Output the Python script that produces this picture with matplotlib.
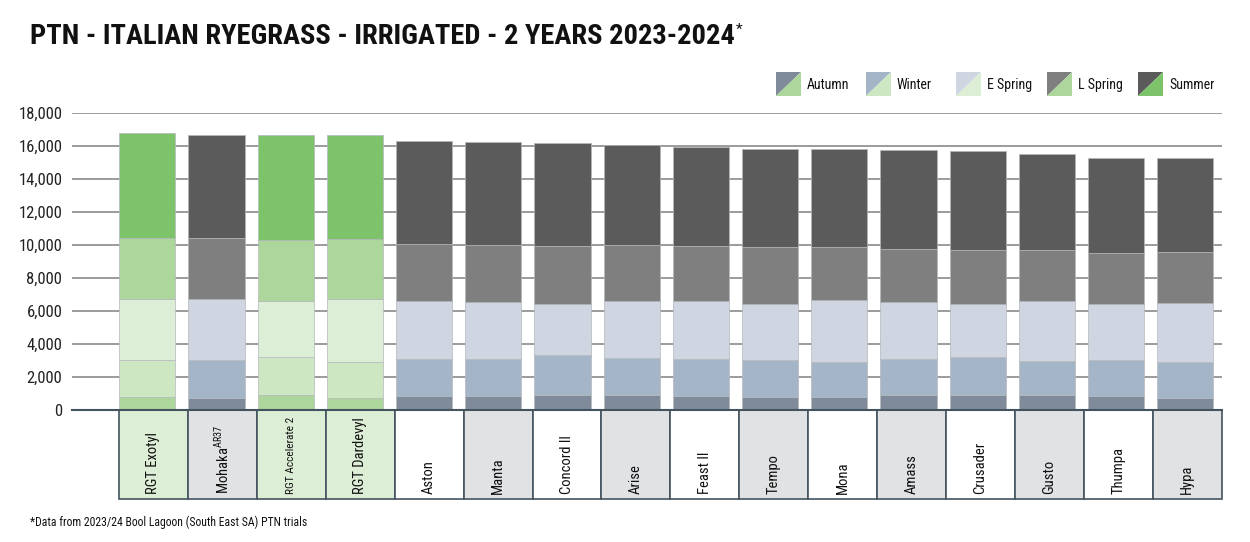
import matplotlib
matplotlib.use("Agg")
import matplotlib.pyplot as plt
from matplotlib.patches import Rectangle, Polygon
from matplotlib import font_manager as fm
import numpy as np

# ---------------- data ----------------
categories = ["RGT Exotyl", "Mohaka$^{\\mathregular{AR37}}$", "RGT Accelerate 2", "RGT Dardevyl",
              "Aston", "Manta", "Concord II", "Arise", "Feast II", "Tempo", "Mona",
              "Amass", "Crusader", "Gusto", "Thumpa", "Hypa"]
is_rgt = [True, False, True, True, False, False, False, False, False, False, False,
          False, False, False, False, False]
seasons = ["Autumn", "Winter", "E Spring", "L Spring", "Summer"]
autumn   = [790, 750, 890, 730, 850, 830, 890, 910, 850, 810, 800, 910, 930, 910, 870, 750]
winter   = [2240, 2280, 2340, 2160, 2240, 2260, 2420, 2240, 2220, 2240, 2110, 2180, 2280, 2060, 2160, 2140]
e_spring = [3700, 3700, 3370, 3840, 3500, 3450, 3090, 3440, 3520, 3390, 3780, 3430, 3230, 3640, 3410, 3600]
l_spring = [3700, 3700, 3700, 3640, 3500, 3480, 3540, 3390, 3350, 3410, 3210, 3250, 3270, 3110, 3090, 3090]
summer   = [6380, 6260, 6390, 6280, 6220, 6240, 6240, 6100, 6020, 5980, 5940, 5980, 6000, 5820, 5740, 5700]
y_ticks = [0, 2000, 4000, 6000, 8000, 10000, 12000, 14000, 16000, 18000]

# ---------------- styles ----------------
grey_cols = ["#7f8a9a", "#a5b5c8", "#cfd6e1", "#7f7f7f", "#5b5b5b"]
green_cols = ["#acd69c", "#cde7c3", "#ddeed6", "#acd69c", "#7cc36a"]

avail = {f.name for f in fm.fontManager.ttflist}
narrow = None
for cand in ["Liberation Sans Narrow", "Roboto Condensed", "Open Sans Condensed", "DejaVu Sans"]:
    if cand in avail:
        narrow = cand
        break
stretch = "condensed" if narrow == "DejaVu Sans" else "normal"
plt.rcParams["font.family"] = [narrow, "DejaVu Sans"]
plt.rcParams["mathtext.fontset"] = "custom"
plt.rcParams["mathtext.rm"] = narrow

W, H = 1250, 542
fig = plt.figure(figsize=(W / 100, H / 100), dpi=100)
ax = fig.add_axes([72 / W, 1 - 410 / H, (1222 - 72) / W, 297 / H])

x = np.arange(len(categories))
series = [autumn, winter, e_spring, l_spring, summer]
bottom = np.zeros(len(categories))
for si, vals in enumerate(series):
    vals = np.array(vals, dtype=float)
    cols = [green_cols[si] if g else grey_cols[si] for g in is_rgt]
    ax.bar(x, vals, bottom=bottom, width=0.81, color=cols,
           edgecolor="#b4b8bc", linewidth=0.5, zorder=3)
    bottom += vals

ax.set_xlim(-1.088, 15.53)
ax.set_ylim(0, 18000)
ax.set_yticks(y_ticks)
ax.set_yticklabels([f"{v:,}" for v in y_ticks], fontsize=12, color="#222222",
                   fontstretch=stretch)
ax.yaxis.grid(True, color="#8a8a8a", linewidth=1.2, zorder=0)
ax.tick_params(axis="y", length=0, pad=7)
ax.tick_params(axis="x", length=0, labelbottom=False)
for s in ["top", "right", "left"]:
    ax.spines[s].set_visible(False)
ax.spines["bottom"].set_color("#44545f")
ax.spines["bottom"].set_linewidth(1.5)
ax.spines["bottom"].set_zorder(4)

# category boxes under the axis
box_w = 0.996
box_left0 = -0.409
box_h = 89 / 297
labels = []
for i, name in enumerate(categories):
    if is_rgt[i]:
        fc = "#ddeed6"
    elif i % 2 == 1:
        fc = "#e1e2e4"
    else:
        fc = "#ffffff"
    left = box_left0 + box_w * i
    r = Rectangle((left, -box_h), box_w, box_h, transform=ax.get_xaxis_transform(),
                  facecolor=fc, edgecolor="#44545f", linewidth=1.2, clip_on=False, zorder=2)
    ax.add_patch(r)
    labels.append(ax.text(left + box_w / 2, -84 / 297, name, transform=ax.get_xaxis_transform(),
                          rotation=90, ha="center", va="bottom", fontsize=10.5, color="#111111",
                          fontstretch=stretch, clip_on=False))

# title
t = fig.text(30 / W, 1 - 36 / H, "PTN - ITALIAN RYEGRASS - IRRIGATED - 2 YEARS 2023-2024",
             fontsize=20.5, fontweight="bold", color="#111111", va="center", ha="left",
             fontstretch=stretch)
fig.canvas.draw()
# shrink labels that would not fit inside their box
for lab in labels:
    h = lab.get_window_extent().height
    if h > 78:
        lab.set_fontsize(lab.get_fontsize() * 78 / h)
bb = t.get_window_extent()
fig.text((bb.x1 + 1) / W, bb.y1 / H, "*", fontsize=11, color="#111111",
         va="top", ha="left")
# footnote
fig.text(30 / W, 1 - 522 / H, "*Data from 2023/24 Bool Lagoon (South East SA) PTN trials",
         fontsize=8.5, color="#111111", va="center", ha="left", fontstretch=stretch)

# legend with split patches
leg_x = [776, 866, 956, 1047, 1138]
for i, lab in enumerate(seasons):
    x0 = leg_x[i] / W
    x1 = (leg_x[i] + 25) / W
    y0 = 1 - 96 / H
    y1 = 1 - 72 / H
    fig.patches.append(Polygon([(x0, y0), (x0, y1), (x1, y1)], closed=True,
                               transform=fig.transFigure, facecolor=grey_cols[i],
                               edgecolor="none"))
    fig.patches.append(Polygon([(x0, y0), (x1, y1), (x1, y0)], closed=True,
                               transform=fig.transFigure, facecolor=green_cols[i],
                               edgecolor="none"))
    fig.text((leg_x[i] + 31) / W, 1 - 85 / H, lab, fontsize=10, color="#111111",
             va="center", ha="left", fontstretch=stretch)

fig.savefig("out.png", dpi=100)
